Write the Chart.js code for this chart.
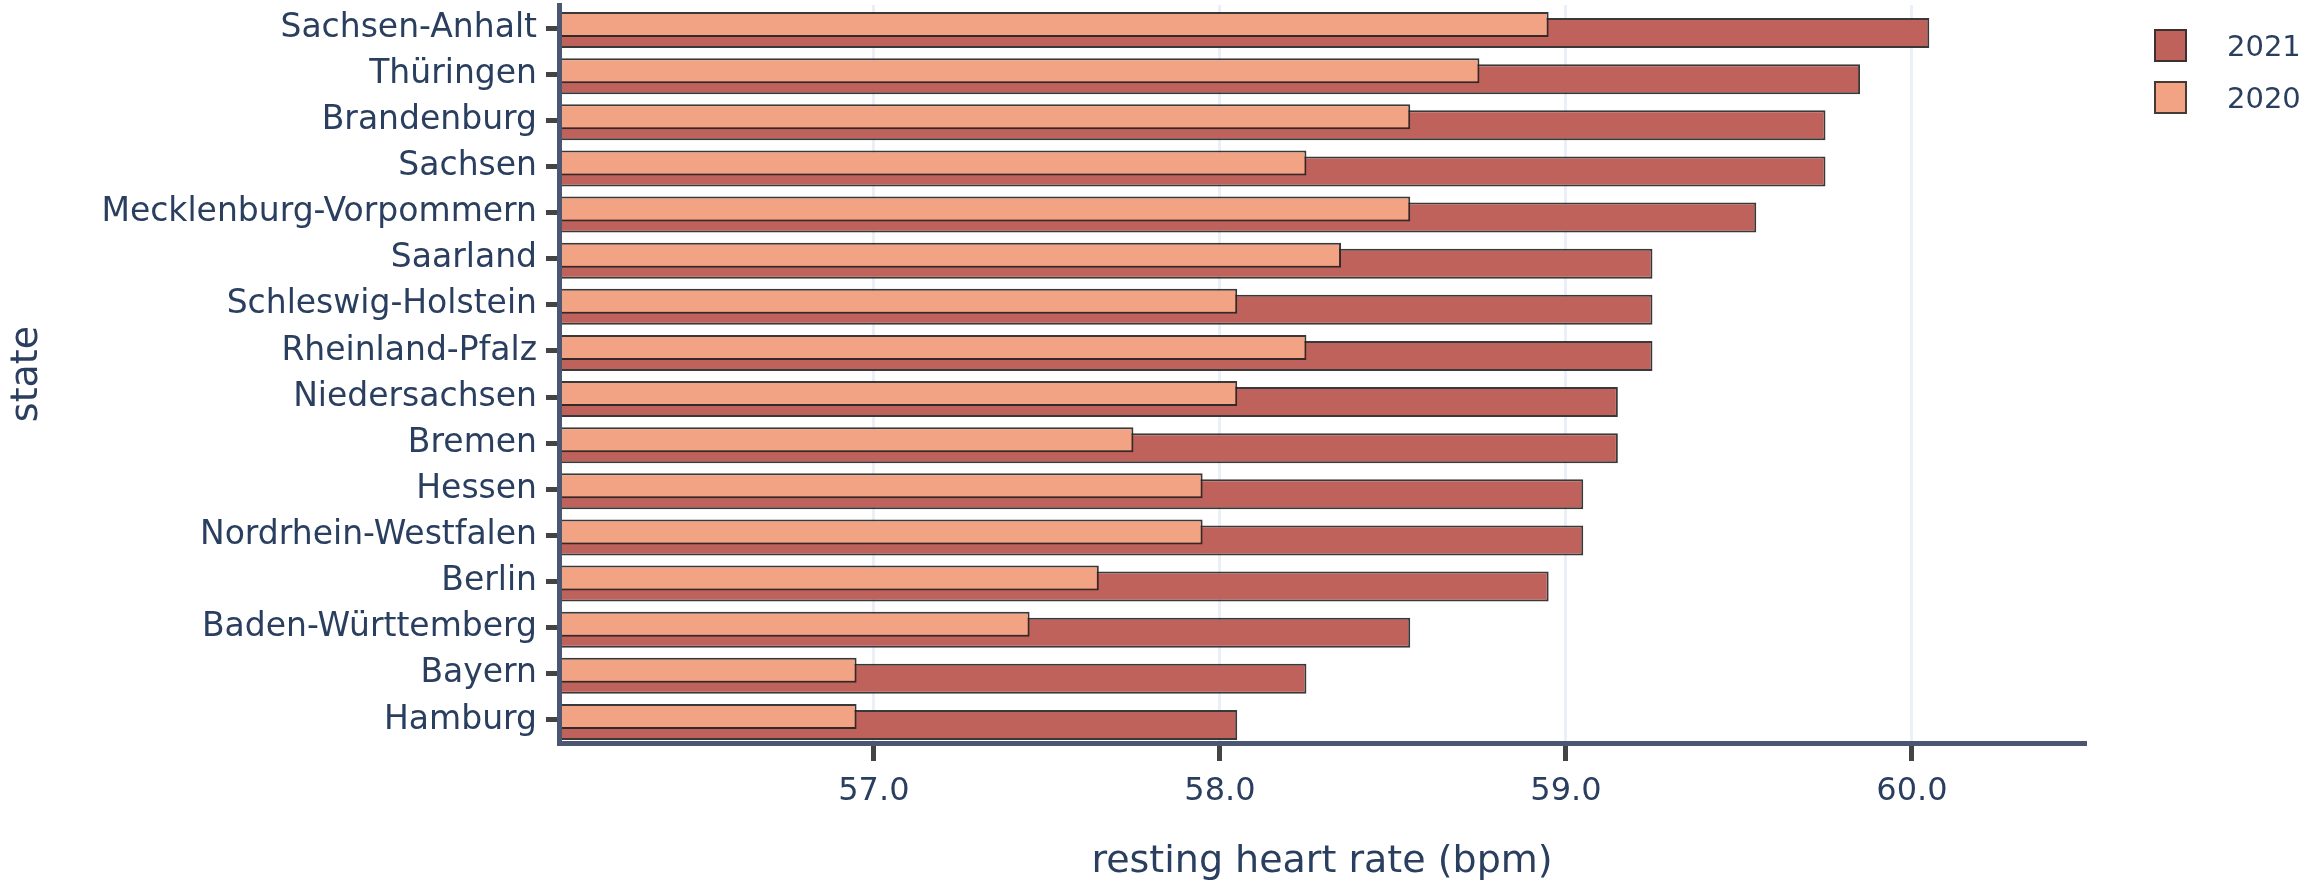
<!DOCTYPE html>
<html>
<head>
<meta charset="utf-8">
<script src="https://cdn.jsdelivr.net/npm/chart.js@4/dist/chart.umd.min.js"></script>
<style>
  body { margin: 0; background: #fff; }
  #wrap { position: relative; width: 2324px; height: 891px; }
  #legend { position: absolute; left: 2154px; top: 29px; font-family: "DejaVu Sans", sans-serif; font-size: 29px; color: #2a3f5f; }
  .item { display: flex; align-items: center; height: 33px; margin-bottom: 19px; }
  .box { width: 33px; height: 33px; box-sizing: border-box; border: 2px solid rgba(40,40,40,0.85); margin-right: 40px; }
</style>
</head>
<body>
<div id="wrap">
  <canvas id="chart" width="2324" height="891"></canvas>
  <div id="legend"></div>
</div>
<script>
// data
const states = ['Sachsen-Anhalt', 'Thüringen', 'Brandenburg', 'Sachsen', 'Mecklenburg-Vorpommern',
  'Saarland', 'Schleswig-Holstein', 'Rheinland-Pfalz', 'Niedersachsen', 'Bremen', 'Hessen',
  'Nordrhein-Westfalen', 'Berlin', 'Baden-Württemberg', 'Bayern', 'Hamburg'];
const hr2021 = [60.05, 59.85, 59.75, 59.75, 59.55, 59.25, 59.25, 59.25, 59.15, 59.15, 59.05, 59.05, 58.95, 58.55, 58.25, 58.05];
const hr2020 = [58.95, 58.75, 58.55, 58.25, 58.55, 58.35, 58.05, 58.25, 58.05, 57.75, 57.95, 57.95, 57.65, 57.45, 56.95, 56.95];
const xTicks = [57, 58, 59, 60];

const textColor = '#2a3f5f';
const axisColor = '#4b5670';
const font = 'DejaVu Sans';

const series = [
  { label: '2021', data: hr2021, color: '#bf625c' },
  { label: '2020', data: hr2020, color: '#f2a383' }
];

// legend (2021 on top like the original)
const legendEl = document.getElementById('legend');
series.forEach(s => {
  const row = document.createElement('div');
  row.className = 'item';
  row.innerHTML = '<span class="box" style="background:' + s.color + '"></span><span>' + s.label + '</span>';
  legendEl.appendChild(row);
});

const ctx = document.getElementById('chart');
new Chart(ctx, {
  type: 'bar',
  data: {
    labels: states,
    datasets: [
      { // 2020 drawn last -> on top, sits in the upper slot
        label: '2020', data: hr2020,
        backgroundColor: '#f2a383', borderColor: 'rgba(35,35,35,0.9)', borderWidth: 2,
        categoryPercentage: 0.304, barPercentage: 3.57, clip: 0
      },
      {
        label: '2021', data: hr2021,
        backgroundColor: '#bf625c', borderColor: 'rgba(35,35,35,0.9)', borderWidth: 2,
        categoryPercentage: 0.434, barPercentage: 3.0, clip: 0
      }
    ]
  },
  options: {
    indexAxis: 'y',
    responsive: false,
    animation: false,
    layout: { padding: { left: 0, top: 5, right: 239, bottom: 0 } },
    plugins: { legend: { display: false }, tooltip: { enabled: false } },
    scales: {
      x: {
        type: 'linear',
        min: 56.09,
        max: 60.5,
        afterFit: s => { s.height = 148; s.paddingLeft = 0; s.paddingRight = 0; },
        afterBuildTicks: s => { s.ticks = xTicks.map(v => ({ value: v })); },
        ticks: {
          callback: v => v.toFixed(1),
          color: textColor, font: { family: font, size: 32 }, padding: 11, maxRotation: 0
        },
        grid: { color: '#ebf0f8', lineWidth: 3, tickLength: 18, tickWidth: 5, tickColor: '#444' },
        border: { color: axisColor, width: 5, z: 1 },
        title: {
          display: true, text: 'resting heart rate (bpm)', color: textColor,
          font: { family: font, size: 38 }, padding: { top: 0, bottom: 6 }
        }
      },
      y: {
        afterFit: s => { s.width = 559; s.paddingTop = 0; s.paddingBottom = 0; },
        ticks: { color: textColor, font: { family: font, size: 33 }, padding: 9 },
        grid: { offset: false, drawOnChartArea: false, tickLength: 13, tickWidth: 5, tickColor: '#444' },
        border: { color: axisColor, width: 5, z: 1 },
        title: {
          display: true, text: 'state', color: textColor,
          font: { family: font, size: 38 }, padding: { top: 4, bottom: 0 }
        }
      }
    }
  }
});
</script>
</body>
</html>
